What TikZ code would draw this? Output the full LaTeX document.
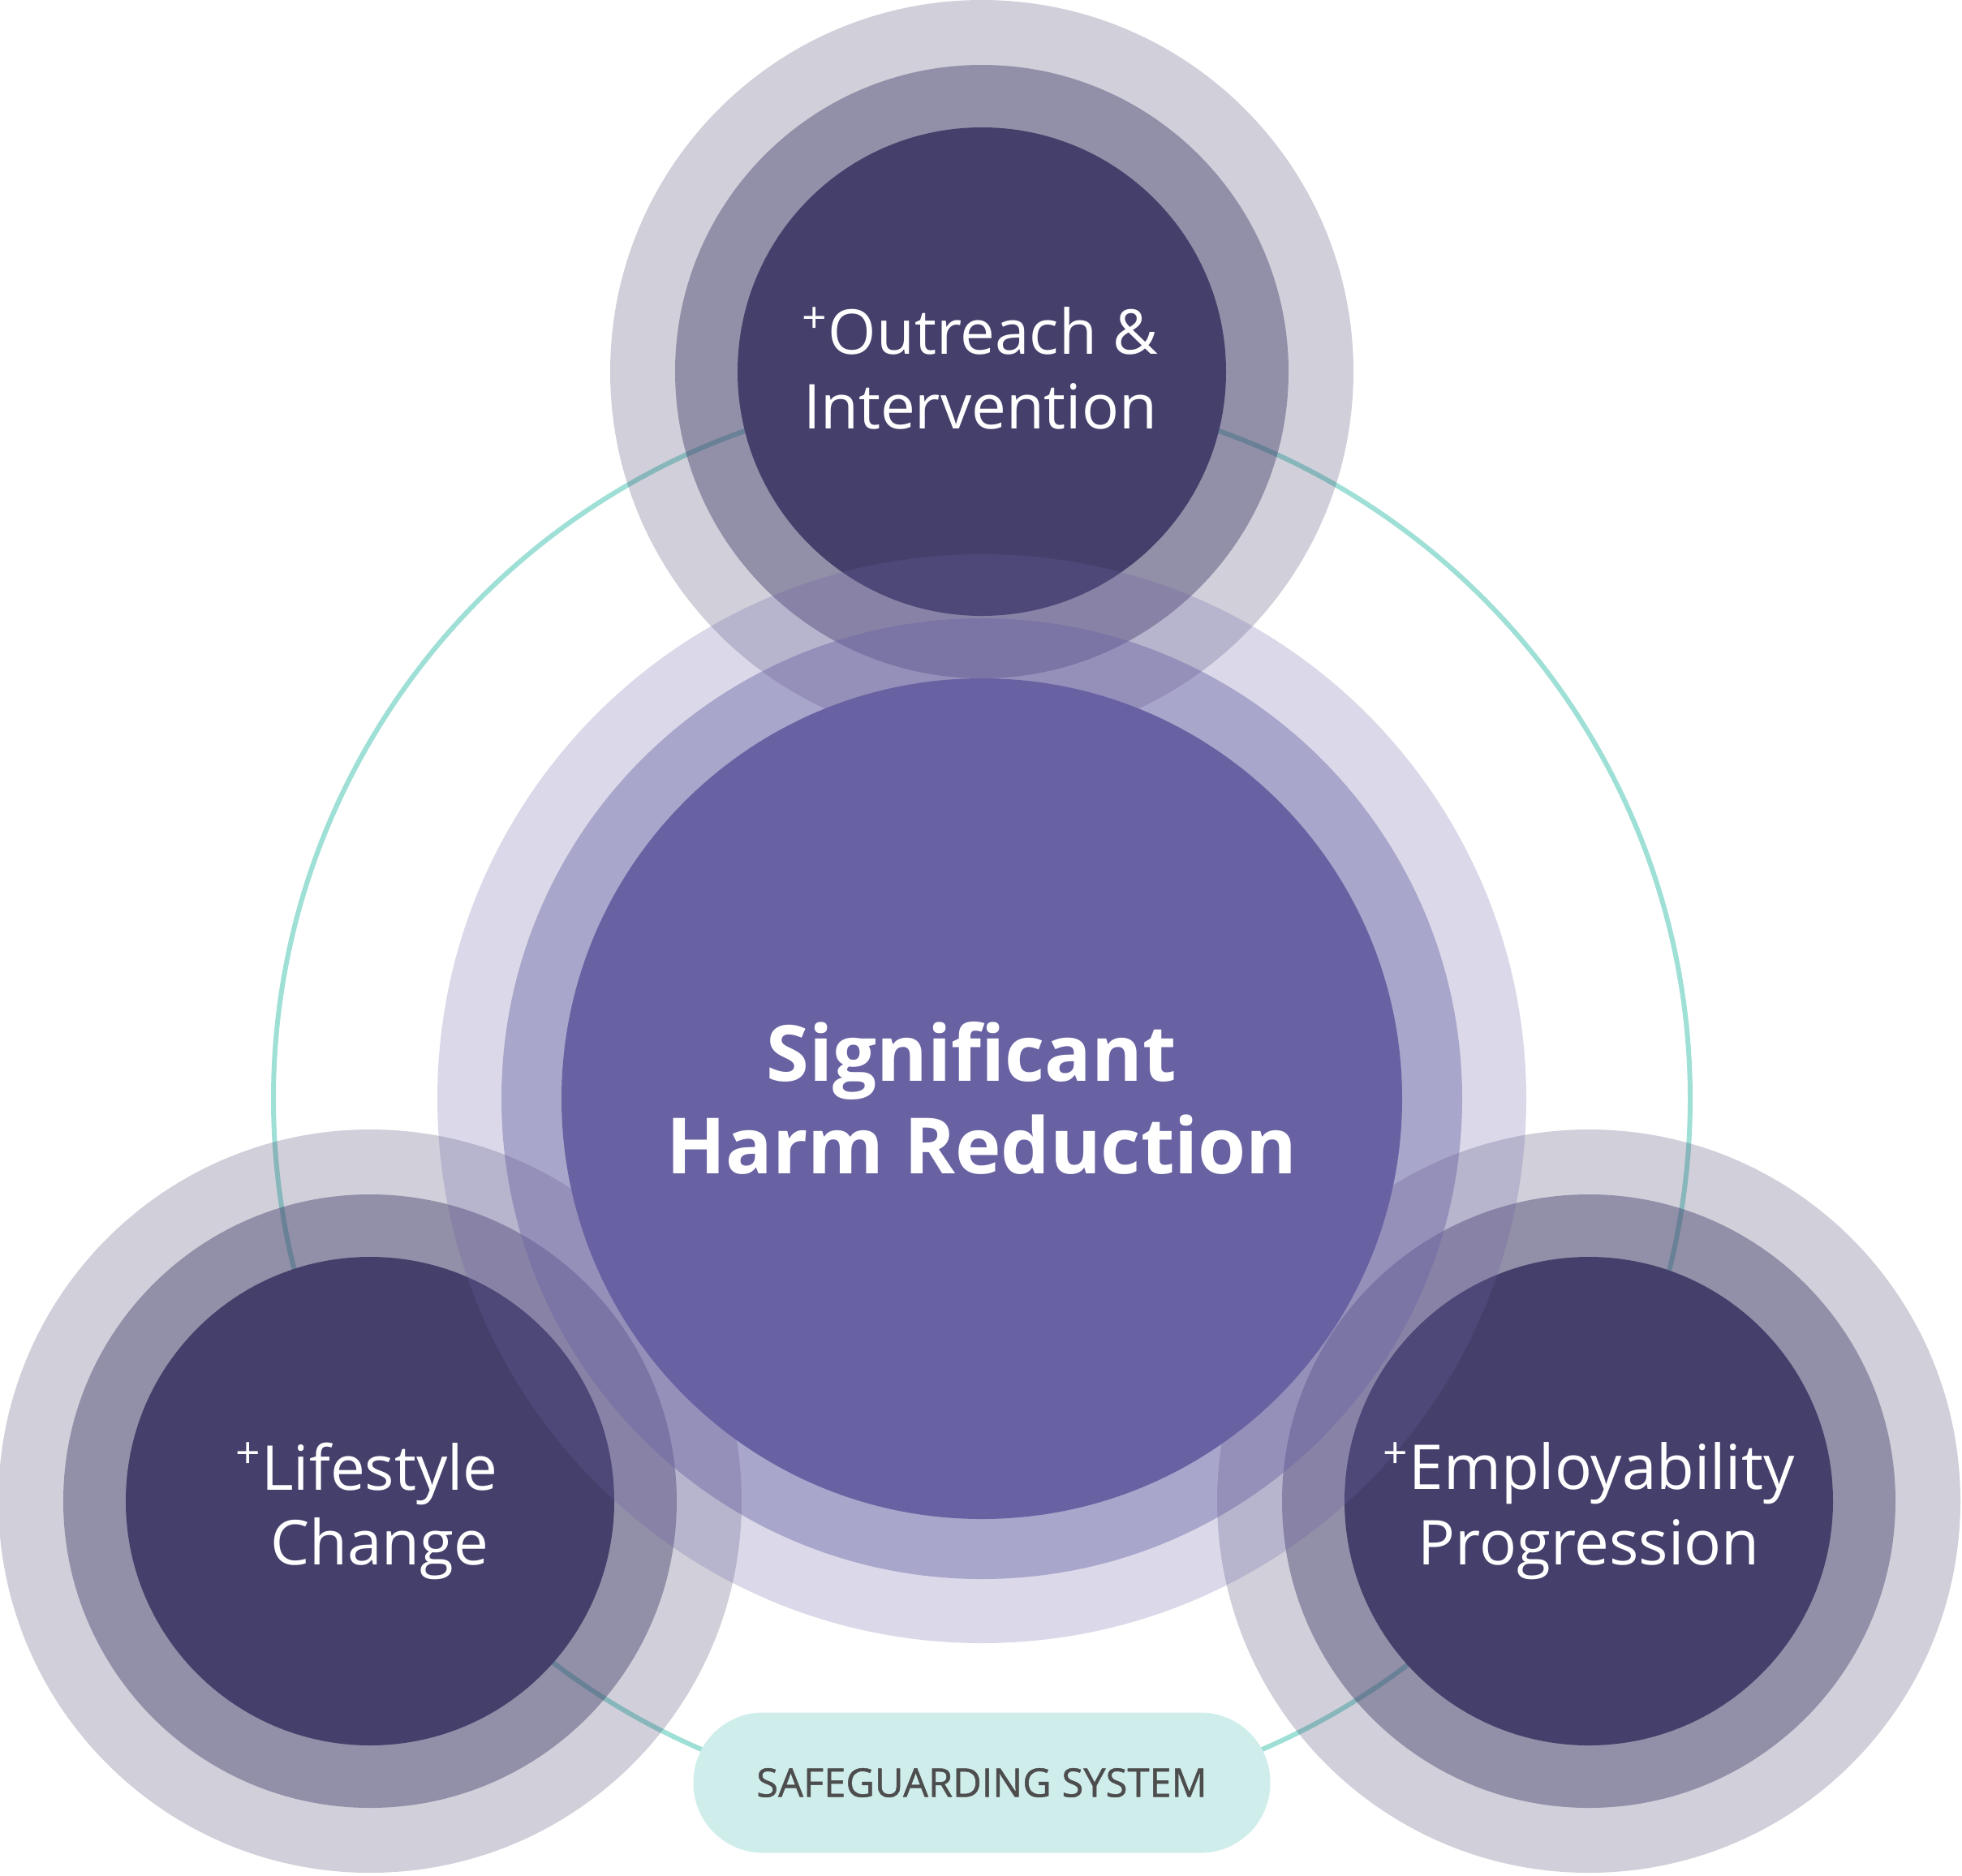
\documentclass[tikz,border=0pt]{standalone}
\usepackage{fontspec}
\setmainfont{Open Sans}
\newfontfamily\pillfont[FakeBold=1]{Open Sans}
\definecolor{satcol}{HTML}{45406B}
\definecolor{hubcol}{HTML}{6862A3}
\definecolor{tealcol}{HTML}{9EDFD6}
\definecolor{pillcol}{HTML}{CFEEEB}
\definecolor{pilltext}{HTML}{4D4D4D}

\begin{document}
\begin{tikzpicture}[
    halo/.style={circle,fill=satcol,fill opacity=0.25,inner sep=0pt,minimum size=9.16cm},
    ring/.style={circle,fill=satcol,fill opacity=0.45,inner sep=0pt,minimum size=7.56cm},
    core/.style={circle,fill=satcol,inner sep=0pt,minimum size=6.02cm},
    hubhalo/.style={circle,fill=hubcol,fill opacity=0.24,inner sep=0pt,minimum size=13.42cm},
    hubring/.style={circle,fill=hubcol,fill opacity=0.43,inner sep=0pt,minimum size=11.84cm},
    hubcore/.style={circle,fill=hubcol,inner sep=0pt,minimum size=10.36cm},
    satext/.style={text=white,align=center,font=\fontsize{21.7}{26.2}\selectfont},
    hubtext/.style={text=white,align=center,font=\fontsize{27.2}{32.4}\selectfont\bfseries},
    orbit/.style={draw=tealcol,line width=1.7pt},
    pill/.style={fill=pillcol,rounded corners=0.86cm,minimum width=7.11cm,
                 minimum height=1.73cm,text=pilltext,font=\fontsize{13.9}{16}\pillfont}]

  \useasboundingbox (0,0) rectangle (24.18,-23.11);

  % ---- safeguarding ring, under everything -------------------------------
  \coordinate (mid) at (12.10,-13.54);
  \draw[orbit] (mid) circle (8.73);

  % ---- the three satellite circles ---------------------------------------
  \foreach \n/\p in {top/{(12.10,-4.58)},left/{(4.56,-18.50)},right/{(19.58,-18.50)}}{
    \node[halo] (\n-halo) at \p {};
    \node[ring] (\n-ring) at \p {};
    \node[core] (\n-core) at \p {};
  }

  % ---- central circle, drawn over the satellites -------------------------
  \node[hubhalo] (hub-halo) at (mid) {};
  \node[hubring] (hub-ring) at (mid) {};
  \node[hubcore] (hub-core) at (mid) {};

  % ---- texts ---------------------------------------------------------------
  \node[hubtext] (hub-text) at ([yshift=0.01cm]hub-core.center)
       {Significant\hspace*{0.27em}\\Harm Reduction};
  \node[satext] (top-text) at ([xshift=-0.02cm,yshift=0.04cm]top-core.center)
       {\textsuperscript{+}Outreach \&\\Intervention};
  \node[satext] (left-text) at ([xshift=0.12cm,yshift=-0.12cm]left-core.center)
       {\llap{\textsuperscript{+}}Lifestyle\\Change};
  \node[satext] (right-text) at ([yshift=-0.12cm]right-core.center)
       {\textsuperscript{+}Employability\\Progression};

  \node[pill] (safe) at (12.10,-21.97) {SAFEGUARDING SYSTEM};

\end{tikzpicture}
\end{document}
